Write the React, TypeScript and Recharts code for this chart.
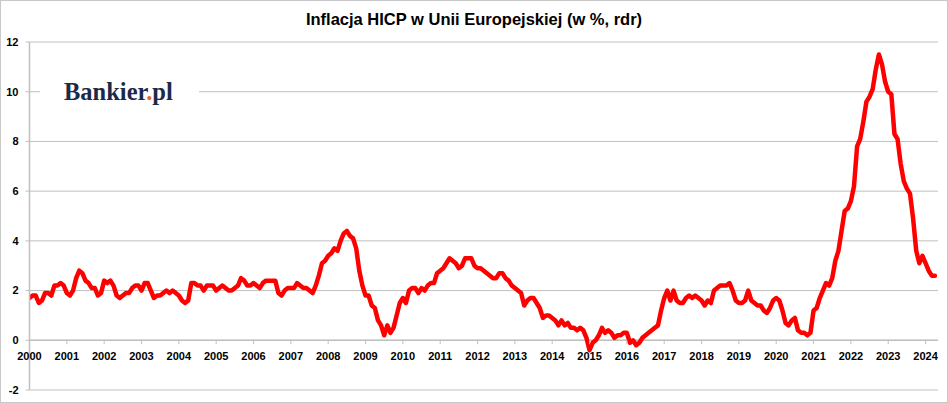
import React from "react";
import {
  LineChart,
  Line,
  XAxis,
  YAxis,
  CartesianGrid,
  ReferenceLine,
  ReferenceDot,
} from "recharts";

// Monthly EU HICP annual inflation (%), January 2000 - April 2024
const y2000 = [1.7, 1.8, 1.8, 1.5, 1.6, 1.9, 1.9, 1.8, 2.2, 2.2, 2.3, 2.2];
const y2001 = [1.9, 1.8, 2.0, 2.5, 2.8, 2.7, 2.4, 2.3, 2.1, 2.1, 1.8, 1.9];
const y2002 = [2.4, 2.3, 2.4, 2.2, 1.8, 1.7, 1.8, 1.9, 1.9, 2.1, 2.2, 2.2];
const y2003 = [2.0, 2.3, 2.3, 2.0, 1.7, 1.8, 1.8, 1.9, 2.0, 1.9, 2.0, 1.9];
const y2004 = [1.8, 1.6, 1.5, 1.6, 2.3, 2.3, 2.2, 2.2, 2.0, 2.2, 2.2, 2.2];
const y2005 = [2.0, 2.1, 2.2, 2.1, 2.0, 2.0, 2.1, 2.2, 2.5, 2.4, 2.2, 2.2];
const y2006 = [2.3, 2.2, 2.1, 2.3, 2.4, 2.4, 2.4, 2.4, 1.9, 1.8, 2.0, 2.1];
const y2007 = [2.1, 2.1, 2.3, 2.2, 2.1, 2.1, 2.0, 1.9, 2.2, 2.6, 3.1, 3.2];
const y2008 = [3.4, 3.5, 3.7, 3.6, 4.0, 4.3, 4.4, 4.2, 4.1, 3.7, 2.8, 2.2];
const y2009 = [1.8, 1.8, 1.4, 1.3, 0.8, 0.6, 0.2, 0.6, 0.3, 0.5, 1.0, 1.5];
const y2010 = [1.7, 1.5, 2.0, 2.1, 2.1, 1.9, 2.1, 2.0, 2.2, 2.3, 2.3, 2.7];
const y2011 = [2.8, 2.9, 3.1, 3.3, 3.2, 3.1, 2.9, 3.0, 3.3, 3.3, 3.3, 3.0];
const y2012 = [2.9, 2.9, 2.8, 2.7, 2.6, 2.5, 2.5, 2.7, 2.7, 2.5, 2.4, 2.2];
const y2013 = [2.1, 2.0, 1.9, 1.4, 1.6, 1.7, 1.7, 1.5, 1.3, 0.9, 1.0, 1.0];
const y2014 = [0.9, 0.8, 0.6, 0.8, 0.6, 0.7, 0.5, 0.5, 0.4, 0.5, 0.4, 0.1];
const y2015 = [-0.4, -0.1, 0.0, 0.2, 0.5, 0.3, 0.4, 0.3, 0.1, 0.2, 0.2, 0.3];
const y2016 = [0.3, -0.1, 0.0, -0.2, -0.1, 0.1, 0.2, 0.3, 0.4, 0.5, 0.6, 1.2];
const y2017 = [1.7, 2.0, 1.6, 2.0, 1.6, 1.5, 1.5, 1.7, 1.8, 1.7, 1.8, 1.7];
const y2018 = [1.6, 1.4, 1.6, 1.5, 2.0, 2.1, 2.2, 2.2, 2.2, 2.3, 2.0, 1.6];
const y2019 = [1.5, 1.5, 1.6, 2.0, 1.6, 1.5, 1.4, 1.4, 1.2, 1.1, 1.3, 1.6];
const y2020 = [1.7, 1.6, 1.2, 0.7, 0.6, 0.8, 0.9, 0.4, 0.3, 0.3, 0.2, 0.3];
const y2021 = [1.2, 1.3, 1.7, 2.0, 2.3, 2.2, 2.5, 3.2, 3.6, 4.4, 5.2, 5.3];
const y2022 = [5.6, 6.2, 7.8, 8.1, 8.8, 9.6, 9.8, 10.1, 10.9, 11.5, 11.1, 10.4];
const y2023 = [10.0, 9.9, 8.3, 8.1, 7.1, 6.4, 6.1, 5.9, 4.9, 3.6, 3.1, 3.4];
const y2024 = [3.1, 2.8, 2.6, 2.6];

const monthlyValues = [
  ...y2000, ...y2001, ...y2002, ...y2003, ...y2004, ...y2005, ...y2006,
  ...y2007, ...y2008, ...y2009, ...y2010, ...y2011, ...y2012, ...y2013,
  ...y2014, ...y2015, ...y2016, ...y2017, ...y2018, ...y2019, ...y2020,
  ...y2021, ...y2022, ...y2023, ...y2024,
];

const yearLabels = [
  "2000", "2001", "2002", "2003", "2004", "2005", "2006", "2007", "2008",
  "2009", "2010", "2011", "2012", "2013", "2014", "2015", "2016", "2017",
  "2018", "2019", "2020", "2021", "2022", "2023", "2024",
];

const yTicks = [-2, 0, 2, 4, 6, 8, 10, 12];

const TITLE = "Inflacja HICP w Unii Europejskiej (w %, rdr)";

const data = monthlyValues.map((v, i) => ({ m: i, v }));

const FONT = '"Liberation Sans", Arial, sans-serif';
const GRID = "#c0c0c0";

function YearTick(props: any) {
  const { cx, cy, text } = props;
  return (
    <g>
      <line x1={cx} y1={cy} x2={cx} y2={cy + 4} stroke={GRID} strokeWidth={1} />
      <text
        x={cx}
        y={cy + 20}
        textAnchor="middle"
        fontFamily={FONT}
        fontWeight="bold"
        fontSize={11}
        fill="#000"
      >
        {text}
      </text>
    </g>
  );
}

export default function App() {
  return (
    <div
      style={{
        position: "absolute",
        left: 0,
        top: 0,
        width: 948,
        height: 403,
        background: "#fff",
        overflow: "hidden",
      }}
    >
      <LineChart
        width={948}
        height={403}
        data={data}
        margin={{ top: 42, right: 10, bottom: 13, left: 0 }}
      >
        <CartesianGrid vertical={false} stroke={GRID} strokeWidth={1} />
        <XAxis
          type="number"
          dataKey="m"
          domain={[0, 292]}
          hide
          allowDataOverflow
        />
        <YAxis
          type="number"
          domain={[-2, 12]}
          ticks={yTicks}
          interval={0}
          width={29.5}
          axisLine={{ stroke: GRID, strokeWidth: 1.5 }}
          tickLine={{ stroke: GRID }}
          tickSize={4}
          tickMargin={7}
          tick={{
            fontFamily: FONT,
            fontWeight: "bold",
            fontSize: 11,
            fill: "#000",
          }}
        />
        <ReferenceLine y={0} stroke={GRID} strokeWidth={1.5} />
        {yearLabels.map((label, i) => (
          <ReferenceDot
            key={label}
            x={i * 12}
            y={0}
            r={0}
            shape={(p: any) => <YearTick {...p} text={label} />}
          />
        ))}
        <Line
          type="linear"
          dataKey="v"
          stroke="#ff0000"
          strokeWidth={4.5}
          strokeLinejoin="round"
          strokeLinecap="round"
          dot={false}
          activeDot={false}
          isAnimationActive={false}
        />
      </LineChart>
      <div
        style={{
          position: "absolute",
          left: 0,
          top: 11,
          width: 948,
          textAlign: "center",
          fontFamily: FONT,
          fontWeight: "bold",
          fontSize: 16.5,
          lineHeight: 1,
          color: "#000",
          whiteSpace: "nowrap",
        }}
      >
        {TITLE}
      </div>
      <div
        style={{
          position: "absolute",
          left: 40,
          top: 78,
          width: 159,
          height: 28,
          background: "#fff",
        }}
      />
      <div
        style={{
          position: "absolute",
          left: 64,
          top: 79.5,
          fontFamily: '"Liberation Serif", "DejaVu Serif", serif',
          fontWeight: "bold",
          fontSize: 24.5,
          lineHeight: 1,
          color: "#1c2a4a",
          whiteSpace: "nowrap",
        }}
      >
        Bankier<span style={{ color: "#f26522" }}>.</span>pl
      </div>
      <div
        style={{
          position: "absolute",
          left: 0,
          top: 0,
          width: 948,
          height: 403,
          boxSizing: "border-box",
          border: "1px solid #c8c8c8",
          pointerEvents: "none",
        }}
      />
    </div>
  );
}
